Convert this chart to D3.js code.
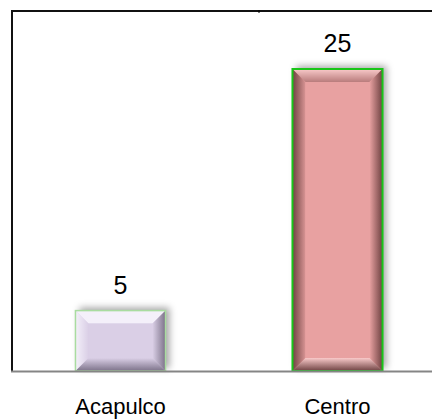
<!DOCTYPE html>
<html>
<head>
<meta charset="utf-8">
<script src="https://cdn.jsdelivr.net/npm/d3@7"></script>
<style>
  html, body { margin: 0; padding: 0; background: #fff; }
  svg { display: block; font-family: Arial, "Liberation Sans", sans-serif; }
</style>
</head>
<body>
<svg id="chart" width="432" height="420"></svg>
<script>
const categories = ["Acapulco", "Centro"];
const values = [5, 25];
const faceColors = ["#dacfe6", "#e8a1a1"];
const lightColors = ["#f4f0fa", "#f9caca"];
const darkColors = ["#7c7289", "#6e4141"];
const borderColors = ["#a9dca0", "#19c519"];

const W = 432, H = 420;
const plot = { left: 12, top: 11, bottom: 371, right: 446 };

const svg = d3.select("#chart");
const defs = svg.append("defs");

const shadow = defs.append("filter").attr("id", "shadow")
  .attr("x", "-30%").attr("y", "-30%").attr("width", "160%").attr("height", "160%");
shadow.append("feDropShadow").attr("dx", 4).attr("dy", -3).attr("stdDeviation", 3.5)
  .attr("flood-color", "#000").attr("flood-opacity", 0.35);

categories.forEach((c, i) => {
  const gl = defs.append("linearGradient").attr("id", "lg" + i).attr("x1", 0).attr("x2", 1).attr("y1", 0).attr("y2", 0);
  gl.append("stop").attr("offset", "0%").attr("stop-color", i === 0 ? lightColors[i] : darkColors[i]);
  gl.append("stop").attr("offset", "100%").attr("stop-color", i === 0 ? faceColors[i] : "#d89494");
  const gr = defs.append("linearGradient").attr("id", "rg" + i).attr("x1", 0).attr("x2", 1).attr("y1", 0).attr("y2", 0);
  gr.append("stop").attr("offset", "0%").attr("stop-color", faceColors[i]);
  gr.append("stop").attr("offset", "100%").attr("stop-color", darkColors[i]);
  const gt = defs.append("linearGradient").attr("id", "tg" + i).attr("x1", 0).attr("x2", 0).attr("y1", 0).attr("y2", 1);
  gt.append("stop").attr("offset", "0%").attr("stop-color", lightColors[i]);
  gt.append("stop").attr("offset", "100%").attr("stop-color", i === 0 ? lightColors[i] : "#b97c7c");
  const gb = defs.append("linearGradient").attr("id", "bg" + i).attr("x1", 0).attr("x2", 0).attr("y1", 0).attr("y2", 1);
  gb.append("stop").attr("offset", "0%").attr("stop-color", i === 0 ? faceColors[i] : lightColors[i]);
  gb.append("stop").attr("offset", "100%").attr("stop-color", darkColors[i]);
});

const x = d3.scaleBand().domain(categories).range([plot.left, plot.right]).padding(0);
const y = d3.scaleLinear().domain([0, 30]).range([plot.bottom, plot.bottom - 362.4]);
const barFrac = 0.415;

// frame
svg.append("line").attr("x1", plot.left).attr("x2", W).attr("y1", plot.top).attr("y2", plot.top)
  .attr("stroke", "#111").attr("stroke-width", 2);
svg.append("line").attr("x1", plot.left).attr("x2", plot.left).attr("y1", plot.top - 1).attr("y2", plot.bottom)
  .attr("stroke", "#111").attr("stroke-width", 2);
svg.append("line").attr("x1", 259).attr("x2", 259).attr("y1", plot.top - 1).attr("y2", plot.top + 2)
  .attr("stroke", "#000").attr("stroke-width", 1);

const bars = svg.append("g").selectAll("g").data(categories).join("g");

bars.each(function(c, i) {
  const g = d3.select(this);
  const bw = x.bandwidth() * barFrac;
  const x0 = x(c) + (x.bandwidth() - bw) / 2, x1 = x0 + bw;
  const y0 = y(values[i]), y1 = y(0);
  const b = 13;
  g.append("rect").attr("x", x0).attr("y", y0).attr("width", bw).attr("height", y1 - y0)
    .attr("fill", faceColors[i]).attr("filter", "url(#shadow)");
  const pts = (a) => a.map(p => p.join(",")).join(" ");
  g.append("polygon").attr("points", pts([[x0, y0], [x1, y0], [x1 - b, y0 + b], [x0 + b, y0 + b]])).attr("fill", `url(#tg${i})`);
  g.append("polygon").attr("points", pts([[x0, y0], [x0 + b, y0 + b], [x0 + b, y1 - b], [x0, y1]])).attr("fill", `url(#lg${i})`);
  g.append("polygon").attr("points", pts([[x1, y0], [x1, y1], [x1 - b, y1 - b], [x1 - b, y0 + b]])).attr("fill", `url(#rg${i})`);
  g.append("polygon").attr("points", pts([[x0, y1], [x0 + b, y1 - b], [x1 - b, y1 - b], [x1, y1]])).attr("fill", `url(#bg${i})`);
  g.append("rect").attr("x", x0 + b).attr("y", y0 + b).attr("width", bw - 2 * b).attr("height", Math.max(0, y1 - y0 - 2 * b))
    .attr("fill", faceColors[i]);
  g.append("rect").attr("x", x0).attr("y", y0).attr("width", bw).attr("height", y1 - y0)
    .attr("fill", "none").attr("stroke", borderColors[i]).attr("stroke-width", i === 0 ? 1.5 : 2);
  g.append("text").attr("x", x(c) + x.bandwidth() / 2).attr("y", y0 - 17)
    .attr("text-anchor", "middle").attr("font-size", 25).attr("fill", "#000").text(values[i]);
});

// baseline
svg.append("line").attr("x1", plot.left - 1).attr("x2", W).attr("y1", plot.bottom + 0.5).attr("y2", plot.bottom + 0.5)
  .attr("stroke", "#858585").attr("stroke-width", 2);

// category labels
const xAxis = d3.axisBottom(x).tickSize(0).tickPadding(0);
const ax = svg.append("g").attr("transform", `translate(0,${plot.bottom})`).call(xAxis);
ax.select(".domain").remove();
ax.selectAll("text").attr("font-size", 22).attr("font-family", "Arial, 'Liberation Sans', sans-serif")
  .attr("fill", "#000").attr("dy", 0).attr("y", 43);
</script>
</body>
</html>
